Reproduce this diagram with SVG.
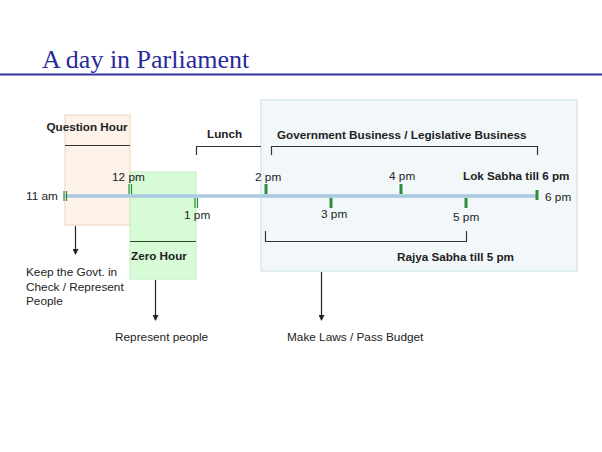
<svg xmlns="http://www.w3.org/2000/svg" width="602" height="452" viewBox="0 0 602 452">
<style>
.t{font-family:"Liberation Sans",Arial,sans-serif;font-size:11.8px;fill:#222}
.b{font-family:"Liberation Sans",Arial,sans-serif;font-size:11.7px;font-weight:bold;fill:#222}
.br{fill:none;stroke:#333;stroke-width:1.2}
.dt{stroke:#2e8b3a;stroke-width:1.2}
.st{fill:#2e8b3a}
.ar{stroke:#222;stroke-width:1.2;marker-end:url(#ah)}
</style>
<defs>
<marker id="ah" markerWidth="6" markerHeight="6" refX="5" refY="3" orient="auto" markerUnits="userSpaceOnUse">
<path d="M0,0 L6,3 L0,6 z" fill="#222"/>
</marker>
</defs>
<rect width="602" height="452" fill="#fff"/>
<g id="title">
<text x="42" y="68" font-family="'Liberation Serif','Times New Roman',serif" font-size="26" fill="#2a2a9c">A day in Parliament</text>
<line x1="0" y1="74.5" x2="602" y2="74.5" stroke="#3434a0" stroke-width="2"/>
</g>
<g id="business-box">
<rect x="261" y="100" width="316" height="171" fill="#f2f8fa" stroke="#c6dee6" stroke-width="1"/>
</g>
<g id="question-hour">
<rect x="65" y="115" width="65" height="110" fill="#fdf3ea" stroke="#efd3b8" stroke-width="1"/>
<line x1="65" y1="145.5" x2="130" y2="145.5" stroke="#333" stroke-width="1.2"/>
<text class="b" x="87" y="131" text-anchor="middle">Question Hour</text>
</g>
<g id="zero-hour">
<rect x="130" y="172" width="66" height="107" fill="#d6fbd6" stroke="#c4eec4" stroke-width="1"/>
<line x1="130" y1="241.5" x2="196" y2="241.5" stroke="#2a4a2a" stroke-width="1.2"/>
<text class="b" x="131" y="260">Zero Hour</text>
</g>
<g id="timeline">
<line x1="65" y1="196" x2="537" y2="196" stroke="#a9c9e2" stroke-width="3.5"/>
<line class="dt" x1="64" y1="191" x2="64" y2="201"/><line class="dt" x1="66.5" y1="191" x2="66.5" y2="201"/>
<line class="dt" x1="129" y1="184" x2="129" y2="194"/><line class="dt" x1="131.5" y1="184" x2="131.5" y2="194"/>
<line class="dt" x1="195" y1="198" x2="195" y2="208"/><line class="dt" x1="197.5" y1="198" x2="197.5" y2="208"/>
<rect class="st" x="264.5" y="184" width="3" height="10"/>
<rect class="st" x="329.5" y="198" width="3" height="10"/>
<rect class="st" x="399.5" y="184" width="3" height="10"/>
<rect class="st" x="464.5" y="198" width="3" height="10"/>
<rect class="st" x="535.5" y="190" width="3" height="10"/>
<text class="t" x="26" y="200">11 am</text>
<text class="t" x="112" y="181">12 pm</text>
<text class="t" x="184" y="219">1 pm</text>
<text class="t" x="255" y="181">2 pm</text>
<text class="t" x="321" y="218">3 pm</text>
<text class="t" x="389" y="180">4 pm</text>
<text class="t" x="453" y="221">5 pm</text>
<text class="t" x="545" y="201">6 pm</text>
</g>
<g id="lunch">
<path class="br" d="M196.5,155 V146.5 H261"/>
<text class="b" x="207" y="138">Lunch</text>
</g>
<g id="govt-business">
<path class="br" d="M271.5,155 V146.5 H537.5 V155"/>
<text class="b" x="277" y="139">Government Business / Legislative Business</text>
</g>
<g id="lok-sabha">
<text class="b" x="463" y="180">Lok Sabha till 6 pm</text>
</g>
<g id="rajya-sabha">
<path class="br" d="M265.5,231 V241.5 H466.5 V231"/>
<text class="b" x="397" y="261">Rajya Sabha till 5 pm</text>
</g>
<g id="connectors">
<line class="ar" x1="75.5" y1="226" x2="75.5" y2="254"/>
<line class="ar" x1="155.5" y1="280" x2="155.5" y2="320"/>
<line class="ar" x1="321.5" y1="272" x2="321.5" y2="320"/>
</g>
<g id="outcomes">
<text class="t" x="26" y="276">Keep the Govt. in</text>
<text class="t" x="26" y="291">Check / Represent</text>
<text class="t" x="26" y="305">People</text>
<text class="t" x="115" y="341">Represent people</text>
<text class="t" x="287" y="341">Make Laws / Pass Budget</text>
</g>
</svg>
